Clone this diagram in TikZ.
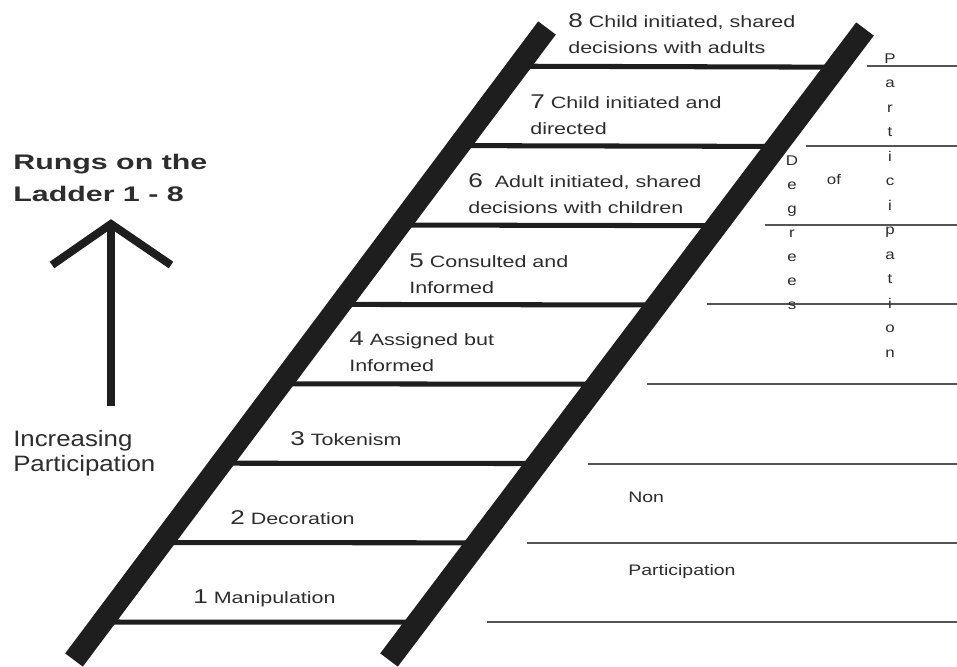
\documentclass[tikz,border=0pt]{standalone}
\usepackage{fontspec}
\setmainfont{Liberation Sans}
\usetikzlibrary{calc}

\definecolor{inkc}{RGB}{30,30,30}
\definecolor{linec}{RGB}{85,85,85}
\definecolor{textc}{RGB}{45,45,45}

\tikzset{
  rail/.style={draw=inkc, line width=18.8pt},
  rung/.style={draw=inkc, line width=4.3pt},
  sideline/.style={draw=linec, line width=2.4pt},
  arrowline/.style={draw=inkc, line width=6.8pt, line join=miter},
  rungtext/.style={anchor=base west, inner sep=0pt, align=left, text=textc,
    xscale=1.31, font=\fontsize{14}{22}\selectfont},
  headtext/.style={anchor=base west, inner sep=0pt, align=left, text=textc,
    xscale=1.44, font=\fontsize{18}{27}\selectfont\bfseries},
  sidetext/.style={anchor=base west, inner sep=0pt, align=left, text=textc,
    xscale=1.16, font=\fontsize{19}{21}\selectfont},
  bandtext/.style={anchor=base west, inner sep=0pt, text=textc,
    xscale=1.28, font=\fontsize{13}{16}\selectfont},
  vlet/.style={anchor=base, inner sep=0pt, text=textc,
    xscale=1.2, font=\fontsize{12}{14}\selectfont}
}
\newcommand{\rnum}[1]{{\fontsize{17}{22}\selectfont #1}}

\begin{document}
\begin{tikzpicture}[x=0.3mm, y=-0.3mm]
  \useasboundingbox (0,0) rectangle (957,666);

  % rail ends
  \coordinate (L0) at (74,660);
  \coordinate (L1) at (547,28);
  \coordinate (R0) at (389,660);
  \coordinate (R1) at (865,29);

  % rungs
  \foreach \i in {0,...,7}
    \draw[rung] ($(L0)!{(38+79.4*\i)/632}!(L1)$) -- ($(R0)!{(38+79.4*\i)/632}!(R1)$);

  % rails
  \draw[rail] (L0) -- (L1);
  \draw[rail] (R0) -- (R1);

  % lines on the right
  \foreach \y/\xs in {622/487, 543/527, 464/588, 384/647, 304/707, 225/765, 146/806, 66/867}
    \draw[sideline] (\xs,\y) -- (957,\y);

  % rung labels (base = last line)
  \node[rungtext] (r8) at (568,53) {\rnum{8} Child initiated, shared\\decisions with adults};
  \node[rungtext] (r7) at (530,134) {\rnum{7} Child initiated and\\directed};
  \node[rungtext] (r6) at (468,213) {\rnum{6}\ \ Adult initiated, shared\\decisions with children};
  \node[rungtext] (r5) at (409,293) {\rnum{5} Consulted and\\Informed};
  \node[rungtext] (r4) at (349,371) {\rnum{4} Assigned but\\Informed};
  \node[rungtext] (r3) at (290,445) {\rnum{3} Tokenism};
  \node[rungtext] (r2) at (230,524) {\rnum{2} Decoration};
  \node[rungtext] (r1) at (193,603) {\rnum{1} Manipulation};

  % left side
  \node[headtext] (rungs) at (13,201) {Rungs on the\\Ladder 1 - 8};
  \coordinate (tip) at (111,224);
  \coordinate (tail) at (111,406);
  \coordinate (hl) at (52,265);
  \coordinate (hr) at (171,265);
  \draw[arrowline] (tail) -- (tip);
  \draw[arrowline] (hl) -- (tip) -- (hr);
  \node[sidetext] (incr) at (13,471) {Increasing\\Participation};

  % degrees of participation
  \foreach \l [count=\k from 0] in {P,a,r,t,i,c,i,p,a,t,i,o,n}
    \node[vlet] (p\k) at (890,{63+24.5*\k}) {\l};
  \foreach \l [count=\k from 0] in {D,e,g,r,e,e,s}
    \node[vlet] (d\k) at (792,{165+24*\k}) {\l};
  \node[vlet] (of) at (834,184) {of};

  % non participation
  \node[bandtext] (non) at (628,502) {Non};
  \node[bandtext] (npart) at (628,575) {Participation};
\end{tikzpicture}
\end{document}
